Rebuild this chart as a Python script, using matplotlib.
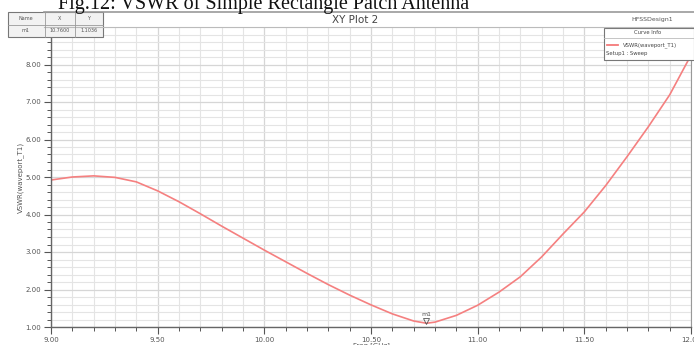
import matplotlib
matplotlib.use("Agg")
import matplotlib.pyplot as plt
from matplotlib.ticker import MultipleLocator, FormatStrFormatter
from matplotlib.patches import Rectangle

freq = [9.0, 9.1, 9.2, 9.3, 9.4, 9.5, 9.6, 9.7, 9.8, 9.9, 10.0, 10.1, 10.2, 10.3,
        10.4, 10.5, 10.6, 10.7, 10.76, 10.8, 10.9, 11.0, 11.1, 11.2, 11.3, 11.4,
        11.5, 11.6, 11.7, 11.8, 11.9, 12.0]
vswr = [4.92, 5.00, 5.03, 4.99, 4.87, 4.63, 4.34, 4.02, 3.69, 3.37, 3.05, 2.74,
        2.43, 2.13, 1.85, 1.59, 1.35, 1.16, 1.10, 1.13, 1.31, 1.58, 1.93, 2.34,
        2.87, 3.48, 4.07, 4.77, 5.54, 6.34, 7.19, 8.25]
marker_x = 10.76
marker_y = 1.10
yticks = [1, 2, 3, 4, 5, 6, 7, 8]
xticks = [9.0, 9.5, 10.0, 10.5, 11.0, 11.5, 12.0]

W, H = 694, 345
fig = plt.figure(figsize=(W / 100, H / 100), dpi=100)
fig.patch.set_facecolor("white")

def fx(px):
    return px / W

def fy(py):
    return 1 - py / H

ax = fig.add_axes([fx(51), fy(327), fx(691) - fx(51), fy(27) - fy(327)])
ax.set_xlim(9.0, 12.0)
ax.set_ylim(1.0, 9.0)
ax.set_xticks(xticks)
ax.set_yticks(yticks)
ax.xaxis.set_minor_locator(MultipleLocator(0.1))
ax.yaxis.set_minor_locator(MultipleLocator(0.2))
ax.xaxis.set_major_formatter(FormatStrFormatter("%.2f"))
ax.yaxis.set_major_formatter(FormatStrFormatter("%.2f"))
ax.grid(which="both", color="#e4e4e4", linewidth=0.8)
ax.grid(which="major", color="#d6d6d6", linewidth=0.9)
ax.set_axisbelow(True)
ax.tick_params(which="major", length=5, width=0.8, color="#555555",
               labelsize=5, labelcolor="#555555", pad=2)
ax.tick_params(which="minor", length=3, width=0.7, color="#555555")
for side in ["left", "bottom"]:
    ax.spines[side].set_color("#666666")
    ax.spines[side].set_linewidth(1.0)
ax.spines["right"].set_color("#999999")
ax.spines["top"].set_visible(False)

ax.plot(freq, vswr, color="#f58080", linewidth=1.2)
ax.plot([marker_x], [marker_y + 0.05], marker="v", markersize=4,
        markerfacecolor="none", markeredgecolor="#555555", markeredgewidth=0.6)
ax.text(marker_x, marker_y + 0.18, "m1", fontsize=4.5, color="#555555",
        ha="center", va="bottom")

ax.set_ylabel("VSWR(waveport_T1)", fontsize=5, color="#555555", labelpad=1)
ax.set_xlabel("Freq [GHz]", fontsize=5, color="#555555", labelpad=0)

# caption (clipped at the top, as in the source)
fig.text(fx(264), fy(9), "Fig.12: VSWR of Simple Rectangle Patch Antenna",
         family="Liberation Serif", fontsize=14.5, ha="center", va="baseline",
         color="#111111")

# header bar
fig.add_artist(plt.Line2D([fx(44), fx(694)], [fy(12), fy(12)],
                          color="#999999", linewidth=1.2))
fig.add_artist(plt.Line2D([fx(44), fx(694)], [fy(27), fy(27)],
                          color="#bbbbbb", linewidth=0.8))
fig.text(fx(355), fy(20), "XY Plot 2", fontsize=7.5, ha="center", va="center",
         color="#444444")
fig.text(fx(652), fy(20), "HFSSDesign1", fontsize=4.5, ha="center", va="center",
         color="#555555")

# marker table
fig.add_artist(Rectangle((fx(8), fy(37)), fx(103) - fx(8), fy(12) - fy(37),
                         transform=fig.transFigure, facecolor="#f2f2f2",
                         edgecolor="#777777", linewidth=0.8))
fig.add_artist(plt.Line2D([fx(8), fx(103)], [fy(25), fy(25)],
                          color="#999999", linewidth=0.6))
for px in [45, 75]:
    fig.add_artist(plt.Line2D([fx(px), fx(px)], [fy(12), fy(37)],
                              color="#999999", linewidth=0.6))
fig.text(fx(26), fy(19), "Name", fontsize=3.5, ha="center", va="center", color="#555555")
fig.text(fx(60), fy(19), "X", fontsize=3.5, ha="center", va="center", color="#555555")
fig.text(fx(89), fy(19), "Y", fontsize=3.5, ha="center", va="center", color="#555555")
fig.text(fx(26), fy(31), "m1", fontsize=3.5, ha="center", va="center", color="#555555")
fig.text(fx(60), fy(31), "10.7600", fontsize=3.5, ha="center", va="center", color="#555555")
fig.text(fx(89), fy(31), "1.1036", fontsize=3.5, ha="center", va="center", color="#555555")

# curve info legend
fig.add_artist(Rectangle((fx(604), fy(60)), fx(694) - fx(604), fy(28) - fy(60),
                         transform=fig.transFigure, facecolor="white",
                         edgecolor="#777777", linewidth=0.8))
fig.add_artist(plt.Line2D([fx(604), fx(694)], [fy(38), fy(38)],
                          color="#bbbbbb", linewidth=0.6))
fig.text(fx(648), fy(33), "Curve Info", fontsize=3.8, ha="center", va="center", color="#444444")
fig.add_artist(plt.Line2D([fx(607), fx(618)], [fy(45), fy(45)],
                          color="#f47a7a", linewidth=1.3))
fig.text(fx(623), fy(45), "VSWR(waveport_T1)", fontsize=3.8, ha="left", va="center", color="#444444")
fig.text(fx(606), fy(53), "Setup1 : Sweep", fontsize=3.8, ha="left", va="center", color="#444444")

fig.savefig("out.png", dpi=100)
